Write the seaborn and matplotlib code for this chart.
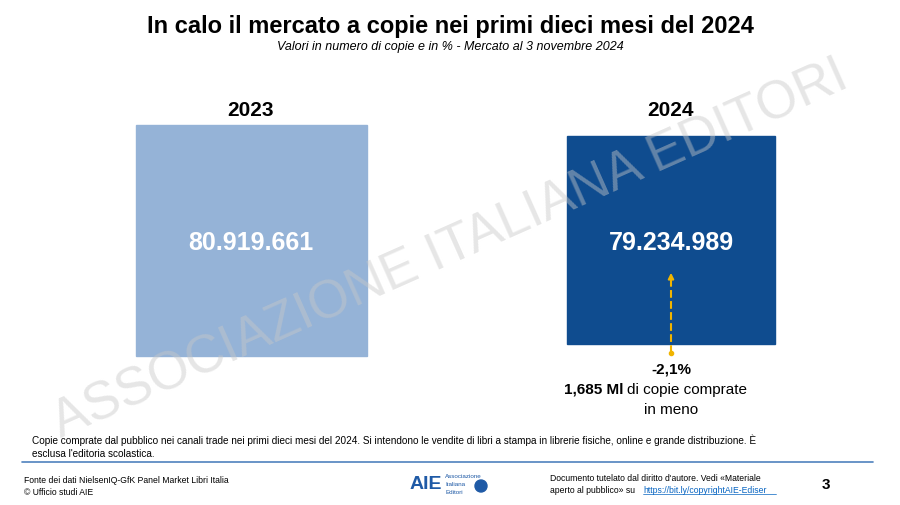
import matplotlib
matplotlib.use("Agg")
import matplotlib.pyplot as plt
from matplotlib.patches import Rectangle
import seaborn as sns

#_Data -----------------
years = ["2023", "2024"]
copies = [80919661, 79234989]
value_labels = ["80.919.661", "79.234.989"]
change_label = "-2,1%"
lost_copies = "1,685 Ml"

#_Style -----------------
sns.set_theme(style="white", font="Liberation Sans",
              rc={"text.color": "black"})
colors = ["#95b3d7", "#0f4c8f"]

fig = plt.figure(figsize=(9, 5.06), dpi=100)
ax = fig.add_axes([0, 0, 1, 1])
ax.set_xlim(0, 900)
ax.set_ylim(506, 0)
ax.axis("off")

#_Watermark -----------------
ax.text(450, 250, "ASSOCIAZIONE ITALIANA EDITORI", fontsize=38, color="#c8c8c8",
        alpha=0.45, rotation=24, ha="center", va="center", zorder=5)

#_Titles -----------------
ax.text(450, 26, "In calo il mercato a copie nei primi dieci mesi del 2024",
        fontsize=17, fontweight="bold", ha="center", va="center")
ax.text(450, 47, "Valori in numero di copie e in % - Mercato al 3 novembre 2024",
        fontsize=9, style="italic", ha="center", va="center")

#_Squares (side scaled from value) -----------------
centers = [251, 671]
cy = 241
vmax = max(copies)
for i, (yr, v, lab) in enumerate(zip(years, copies, value_labels)):
    side = 231 * (v / vmax) ** 5
    x0, y0 = centers[i] - side / 2, cy - side / 2
    ax.add_patch(Rectangle((x0, y0), side, side, color=colors[i], zorder=2))
    ax.text(centers[i], cy + 2, lab, fontsize=18, fontweight="bold",
            color="white", ha="center", va="center", zorder=3)
    ax.text(centers[i], 110, yr, fontsize=15, fontweight="bold",
            ha="center", va="center")

#_Arrow -----------------
ax.plot([671, 671], [280, 354], color="#f0b400", lw=1.5, ls="--", zorder=4)
ax.annotate("", xy=(671, 271), xytext=(671, 282),
            arrowprops=dict(arrowstyle="-|>", color="#f0b400", lw=1.5,
                            mutation_scale=8), zorder=4)
ax.plot(671, 354, "o", color="#f0b400", ms=3, zorder=4)
ax.text(671, 369, change_label, fontsize=11, fontweight="bold", ha="center", va="center")
ax.text(624, 390, lost_copies, fontsize=11, fontweight="bold", ha="right", va="center")
ax.text(627, 390, "di copie comprate", fontsize=11, ha="left", va="center")
ax.text(671, 410, "in meno", fontsize=11, ha="center", va="center")

#_Notes and footer -----------------
ax.text(32, 440, "Copie comprate dal pubblico nei canali trade nei primi dieci mesi del 2024. "
        "Si intendono le vendite di libri a stampa in librerie fisiche, online e grande distribuzione. È",
        fontsize=7.2, ha="left", va="center")
ax.text(32, 454, "esclusa l'editoria scolastica.", fontsize=7.2, ha="left", va="center")
ax.plot([22, 873], [463, 463], color="#4f81bd", lw=1.2)
ax.text(24, 481, "Fonte dei dati NielsenIQ-GfK Panel Market Libri Italia", fontsize=6.2, va="center")
ax.text(24, 493, "© Ufficio studi AIE", fontsize=6.2, va="center")
ax.text(410, 485, "AIE", fontsize=14, fontweight="bold", color="#1f5aa6", va="center")
ax.text(445, 477, "Associazione", fontsize=4.5, color="#1f5aa6", va="center")
ax.text(445, 485, "Italiana", fontsize=4.5, color="#1f5aa6", va="center")
ax.text(445, 493, "Editori", fontsize=4.5, color="#1f5aa6", va="center")
ax.add_patch(plt.Circle((481, 487), 6, color="#1f5aa6"))
ax.text(550, 479, "Documento tutelato dal diritto d'autore. Vedi «Materiale", fontsize=6.2, va="center")
ax.text(550, 491, "aperto al pubblico» su", fontsize=6.2, va="center")
ax.text(643, 491, "https://bit.ly/copyrightAIE-Ediser", fontsize=6.2, va="center",
        color="#0563c1")
ax.plot([643, 776], [495, 495], color="#0563c1", lw=0.5)
ax.text(826, 485, "3", fontsize=11, fontweight="bold", ha="center", va="center")

fig.savefig("out.png", dpi=100)
